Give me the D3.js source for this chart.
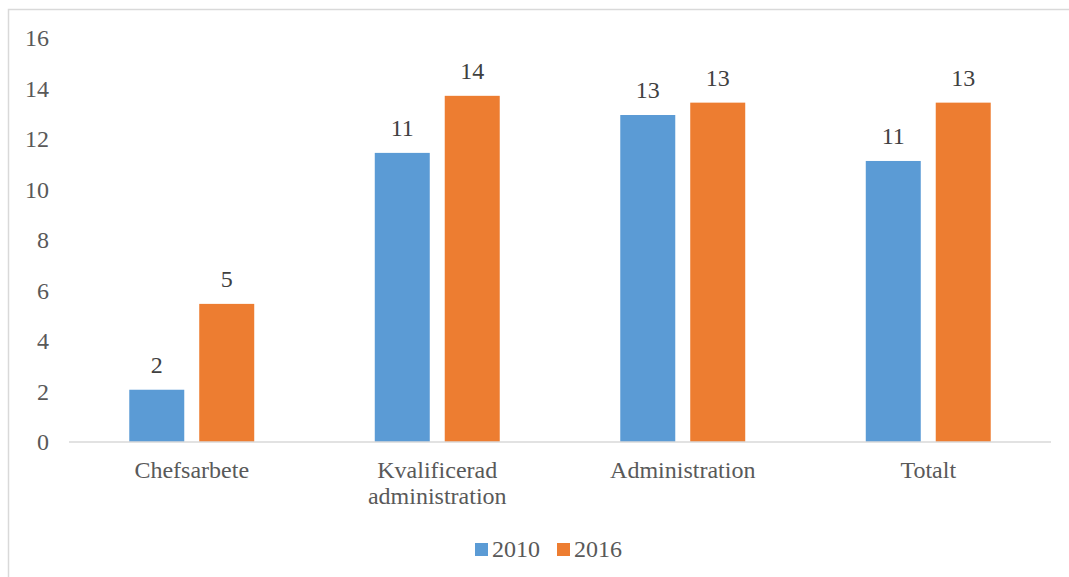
<!DOCTYPE html>
<html>
<head>
<meta charset="utf-8">
<script src="https://cdn.jsdelivr.net/npm/d3@7"></script>
<style>
  html, body { margin: 0; padding: 0; background: #fff; }
  svg { display: block; }
  svg text { font-family: "Liberation Serif", "Times New Roman", Times, serif; }
</style>
</head>
<body>
<svg id="chart" width="1069" height="577"></svg>
<script>
const categories = [["Chefsarbete"], ["Kvalificerad", "administration"], ["Administration"], ["Totalt"]];
const seriesNames = ["2010", "2016"];
const values2010 = [2.07, 11.45, 12.95, 11.13];
const values2016 = [5.47, 13.71, 13.44, 13.44];
const yTicks = [0, 2, 4, 6, 8, 10, 12, 14, 16];
const colors = ["#5B9BD5", "#ED7D31"];

(function () {
const svg = d3.select("#chart");
const W = 1069, H = 577;
const fs = 24;

// outer border
svg.append("rect").attr("x", 8.5).attr("y", 9.5).attr("width", W + 10).attr("height", H + 10)
  .attr("fill", "#fff").attr("stroke", "#d9d9d9").attr("stroke-width", 1.5);

const pLeft = 69, pRight = 1051, pTop = 38, pBottom = 442;
const y = d3.scaleLinear().domain([0, 16]).range([pBottom, pTop]);
const catKeys = categories.map(c => c.join(" "));
const x0 = d3.scaleBand().domain(catKeys).range([pLeft, pRight]).paddingInner(0.491).paddingOuter(0.2455);
const x1 = d3.scaleBand().domain(seriesNames).range([0, x0.bandwidth()]).paddingInner(0.214).paddingOuter(0);

// y tick labels
svg.append("g").selectAll("text").data(yTicks).join("text")
  .attr("x", 49).attr("y", d => y(d)).attr("dy", "0.35em")
  .attr("text-anchor", "end").attr("font-size", fs)
  .attr("fill", "#595959").text(d => d);

const data = categories.map((c, i) => ({ key: catKeys[i], lines: c, vals: [values2010[i], values2016[i]] }));

const groups = svg.append("g").selectAll("g").data(data).join("g")
  .attr("transform", d => `translate(${x0(d.key)},0)`);

groups.selectAll("rect").data(d => d.vals.map((v, j) => ({ s: seriesNames[j], v, j }))).join("rect")
  .attr("x", d => x1(d.s)).attr("width", x1.bandwidth())
  .attr("y", d => y(d.v)).attr("height", d => y(0) - y(d.v))
  .attr("fill", d => colors[d.j]);

groups.selectAll("text.lbl").data(d => d.vals.map((v, j) => ({ s: seriesNames[j], v, j }))).join("text")
  .attr("class", "lbl")
  .attr("x", d => x1(d.s) + x1.bandwidth() / 2).attr("y", d => y(d.v) - 17)
  .attr("text-anchor", "middle").attr("font-size", fs)
  .attr("fill", "#404040").text(d => d3.format(".0f")(d.v));

// baseline
svg.append("line").attr("x1", pLeft).attr("x2", pRight).attr("y1", y(0)).attr("y2", y(0))
  .attr("stroke", "#d9d9d9").attr("stroke-width", 1.5);

// category labels
const catG = svg.append("g").selectAll("text").data(data).join("text")
  .attr("x", d => x0(d.key) + x0.bandwidth() / 2)
  .attr("text-anchor", "middle").attr("font-size", fs)
  .attr("fill", "#595959");
catG.selectAll("tspan").data(d => d.lines.map((t, k) => ({ t, k, x: x0(d.key) + x0.bandwidth() / 2 }))).join("tspan")
  .attr("x", d => d.x).attr("y", d => 478 + d.k * 26).text(d => d.t);

// legend
const legendItems = [{ name: seriesNames[0], x: 475 }, { name: seriesNames[1], x: 557 }];
const lg = svg.append("g").selectAll("g").data(legendItems).join("g");
lg.append("rect").attr("x", d => d.x).attr("y", 543).attr("width", 13).attr("height", 13)
  .attr("fill", (d, i) => colors[i]);
lg.append("text").attr("x", d => d.x + 17).attr("y", 557)
  .attr("font-size", fs).attr("fill", "#595959").text(d => d.name);
})();
</script>
</body>
</html>
